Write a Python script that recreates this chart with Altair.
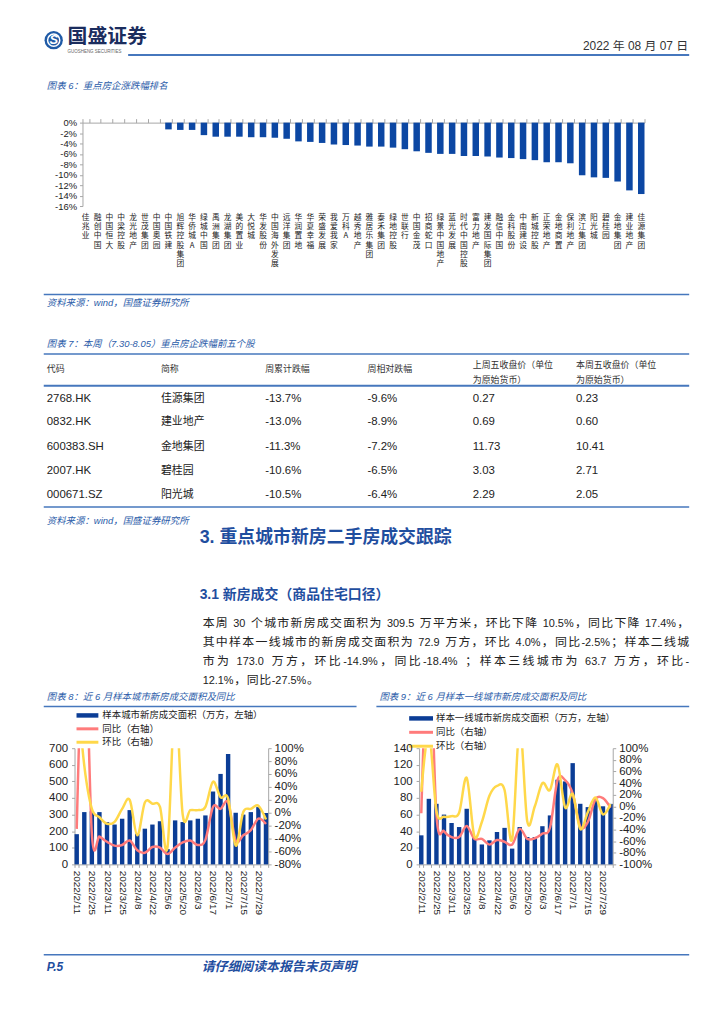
import re
import altair as alt
import pandas as pd

OFF = 8
LATIN = "Liberation Sans"
CJK = "Noto Sans CJK SC"
MIX = "Liberation Sans, Noto Sans CJK SC"
TBLUE = "#2b5ca9"
HBLUE = "#1f4e9f"
LBLUE = "#4677bd"
BAR = "#0b3d96"
BAR6 = "#0c47a3"
RED = "#ff7b7b"
YEL = "#ffd84a"
GRAY = "#a6a6a6"
INK = "#222222"

# ---------------- data: chart 6 ----------------
companies = ["佳兆业", "融创中国", "中国恒大", "中梁控股", "龙光地产", "世茂集团", "中国奥园",
             "中国铁建", "旭辉控股集团", "华侨城A", "绿城中国", "禹洲集团", "龙湖集团", "美的置业",
             "大悦城", "华发股份", "中国海外发展", "远洋集团", "华润置地", "华夏幸福", "荣盛发展",
             "我爱我家", "万科A", "越秀地产", "雅居乐集团", "泰禾集团", "绿地控股", "世联行",
             "中国金茂", "招商蛇口", "绿景中国地产", "蓝光发展", "时代中国控股", "富力地产",
             "建发国际集团", "融信中国", "金科股份", "中南建设", "新城控股", "正荣地产", "金地商置",
             "保利地产", "滨江集团", "阳光城", "碧桂园", "金地集团", "建业地产", "佳源集团"]
changes = [0, 0, 0, 0, 0, 0, 0, -1.3, -1.4, -1.4, -2.4, -2.7, -2.7, -2.7, -2.8, -2.8, -2.9,
           -3.1, -3.6, -3.7, -3.9, -4.2, -4.3, -4.4, -4.6, -4.6, -4.8, -5.1, -5.5, -5.8, -6.0,
           -6.0, -6.4, -6.4, -6.5, -6.7, -6.8, -7.0, -7.2, -7.6, -7.6, -7.8, -10.1, -10.5,
           -10.6, -11.3, -13.0, -13.7]
y6_ticks = [0, -2, -4, -6, -8, -10, -12, -14, -16]

# ---------------- data: table 7 ----------------
t_headers = ["代码", "简称", "周累计跌幅", "周相对跌幅"]
t_headers2 = [("上周五收盘价（单位", "为原始货币）"), ("本周五收盘价（单位", "为原始货币）")]
codes = ["2768.HK", "0832.HK", "600383.SH", "2007.HK", "000671.SZ"]
names = ["佳源集团", "建业地产", "金地集团", "碧桂园", "阳光城"]
cum_chg = ["-13.7%", "-13.0%", "-11.3%", "-10.6%", "-10.5%"]
rel_chg = ["-9.6%", "-8.9%", "-7.2%", "-6.5%", "-6.4%"]
last_close = ["0.27", "0.69", "11.73", "3.03", "2.29"]
this_close = ["0.23", "0.60", "10.41", "2.71", "2.05"]

# ---------------- data: charts 8 / 9 ----------------
weeks = ["2022/2/11", "2022/2/18", "2022/2/25", "2022/3/4", "2022/3/11", "2022/3/18",
         "2022/3/25", "2022/4/1", "2022/4/8", "2022/4/15", "2022/4/22", "2022/4/29",
         "2022/5/6", "2022/5/13", "2022/5/20", "2022/5/27", "2022/6/3", "2022/6/10",
         "2022/6/17", "2022/6/24", "2022/7/1", "2022/7/8", "2022/7/15", "2022/7/22",
         "2022/7/29", "2022/8/5"]
area_all = [182, 315, 320, 315, 255, 240, 275, 327, 185, 215, 240, 260, 92, 265, 255, 265,
            275, 295, 439, 545, 665, 311, 300, 315, 345, 309.5]
yoy_all = [-25, 300, -33, -37, -45, -51, -50, -43, -58, -62, -53, -54, -64, -54, -46, -43,
           -50, -42, 9, 6, 16, -43, -35, -27, -9, -17.4]
mom_all = [200, 73, 6, -7, -17, -14, 6, 20, -35, 16, 14, 9, -53, 176, -3, 4, 4, 9, 48, 24,
           22, -51, 1, 6, 11, -10.5]
area_t1 = [35, 79, 73, 60, 50, 45, 67, 33, 24, 29, 39, 44, 19, 45, 33, 33, 46, 59, 102, 100,
           122, 73, 69, 79, 70, 72.9]
yoy_t1 = [-12, 300, -15, -43, -53, -53, -34, -56, -56, -66, -58, -61, -66, -39, -56, -55,
          -47, -37, 45, 45, 22, -35, -27, 12, 14, -2.5]
mom_t1 = [25, 126, -8, -18, -17, -11, 49, -51, -27, 18, 35, 28, -57, 137, -26, 0, 40, 28,
          72, -2, 21, -39, -10, 15, -14, 4.0]

# ---------------- page text ----------------
para = ["本周 30 个城市新房成交面积为 309.5 万平方米，环比下降 10.5%，同比下降 17.4%，",
        "其中样本一线城市的新房成交面积为 72.9 万方，环比 4.0%，同比-2.5%；样本二线城",
        "市为 173.0 万方，环比-14.9%，同比-18.4% ；样本三线城市为 63.7 万方，环比-",
        "12.1%，同比-27.5%。"]


def pos_xy():
    return dict(x=alt.X("x:Q", scale=None, axis=None), y=alt.Y("y:Q", scale=None, axis=None))


def txt(rows, size, color=INK, font=MIX, align="left", baseline="middle", **kw):
    df = pd.DataFrame(rows, columns=["x", "y", "t"])
    df["x"] = df["x"] - OFF
    df["y"] = df["y"] - OFF
    return alt.Chart(df).mark_text(fontSize=size, color=color, font=font, align=align,
                                   baseline=baseline, **kw).encode(text="t:N", **pos_xy())


def rules(rows):
    df = pd.DataFrame(rows, columns=["x", "x2", "y", "w", "c"])
    for c in ["x", "x2", "y"]:
        df[c] = df[c] - OFF
    return alt.Chart(df).mark_rule().encode(
        x2="x2:Q", strokeWidth=alt.StrokeWidth("w:Q", scale=None),
        color=alt.Color("c:N", scale=None), **pos_xy())


LAT_W = {".": 0.278, "%": 0.889, "-": 0.333, ",": 0.278}


def para_tokens(line, x0, x1, y, justify, cs=12.0, ls=11.0):
    toks = re.findall(r"[\u2e80-\uffff]|[ ]+|[^\u2e80-\uffff ]+", line)
    widths = []
    for t in toks:
        if ord(t[0]) >= 0x2E80:
            widths.append(cs)
        elif t[0] == " ":
            widths.append(0.278 * ls * len(t))
        else:
            widths.append(sum(LAT_W.get(c, 0.556) for c in t) * ls)
    gaps = len(toks) - 1
    extra = (x1 - x0 - sum(widths)) / gaps if (justify and gaps > 0) else 0.6
    out, x = [], x0
    for t, w in zip(toks, widths):
        if t.strip():
            out.append((x - OFF, y - OFF, t, cs if ord(t[0]) >= 0x2E80 else ls))
        x += w + extra
    return out


prow = []
for i, (ln, yy) in enumerate(zip(para, [627, 646, 665, 684])):
    prow += para_tokens(ln, 200, 690, yy, i < 3)
para_df = pd.DataFrame(prow, columns=["x", "y", "t", "s"])
para_layer = alt.Chart(para_df).mark_text(align="left", baseline="alphabetic", font=MIX,
                                          color=INK).encode(
    text="t:N", size=alt.Size("s:Q", scale=None), **pos_xy())

# table text rows
col_x = [43, 158, 263, 366, 472, 576]
row_y = [397, 421, 446, 470, 494]
lat_cells, cjk_cells = [], []
for i, yy in enumerate(row_y):
    lat_cells += [(col_x[0], yy, codes[i]), (col_x[2], yy, cum_chg[i]), (col_x[3], yy, rel_chg[i]),
                  (col_x[4], yy, last_close[i]), (col_x[5], yy, this_close[i])]
    cjk_cells.append((col_x[1], yy, names[i]))
head_cells = [(col_x[k], 367, t_headers[k]) for k in range(4)]
head_cells += [(col_x[4], 363, t_headers2[0][0]), (col_x[4], 378, t_headers2[0][1]),
               (col_x[5], 363, t_headers2[1][0]), (col_x[5], 378, t_headers2[1][1])]

logo_df = pd.DataFrame({"x": [50 - OFF], "y": [36 - OFF]})
logo = alt.Chart(logo_df).mark_point(filled=True, size=340, color="#1f5aa6", opacity=1).encode(**pos_xy())
logo_ring = alt.Chart(logo_df).mark_point(filled=False, size=150, color="white", strokeWidth=1.5,
                                          opacity=1).encode(**pos_xy())
logo_s = alt.Chart(logo_df).mark_text(text="S", fontSize=13, fontWeight="bold", fontStyle="italic",
                                      color="white", font=LATIN).encode(**pos_xy())

overlay = alt.layer(
    rules([
        (125, 690, 51, 2, LBLUE),
        (40, 690, 292, 1.5, LBLUE),
        (40, 690, 352, 1.5, LBLUE),
        (40, 690, 384, 2, LBLUE),
        (40, 690, 506, 1.5, LBLUE),
        (40, 355, 707, 1.5, LBLUE),
        (375, 690, 707, 1.5, LBLUE),
        (40, 690, 957, 1.5, LBLUE),
        (73, 95, 716, 4.5, BAR), (73, 95, 729.5, 3, RED), (73, 95, 743, 3, YEL),
        (408, 432, 719, 4.5, BAR), (408, 432, 733, 3, RED), (408, 432, 747, 3, YEL),
    ]),
    logo, logo_ring, logo_s,
    txt([(64, 33, "国盛证券")], 20, color="#1b2d5e", font=CJK, fontWeight="bold"),
    txt([(64, 48, "GUOSHENG SECURITIES")], 4.5, color="#666666", font=LATIN),
    txt([(689, 42, "2022 年 08 月 07 日")], 12, color="#333333", align="right"),
    txt([(43, 82, "图表 6：重点房企涨跌幅排名"),
         (43, 301, "资料来源：wind，国盛证券研究所"),
         (43, 342, "图表 7：本周（7.30-8.05）重点房企跌幅前五个股"),
         (43, 520, "资料来源：wind，国盛证券研究所"),
         (43, 697, "图表 8：近 6 月样本城市新房成交面积及同比"),
         (378, 697, "图表 9：近 6 月样本一线城市新房成交面积及同比")],
        9.5, color=TBLUE, fontStyle="italic"),
    txt(head_cells, 9, color="#333333"),
    txt(lat_cells, 11.5, font=LATIN),
    txt(cjk_cells, 11, font=CJK),
    txt([(197, 537, "3. 重点城市新房二手房成交跟踪")], 18, color=HBLUE, fontWeight="bold"),
    txt([(197, 595, "3.1 新房成交（商品住宅口径）")], 14, color=HBLUE, fontWeight="bold"),
    para_layer,
    txt([(99, 716, "样本城市新房成交面积（万方，左轴）"), (99, 729.5, "同比（右轴）"),
         (99, 743, "环比（右轴）"),
         (435, 719, "样本一线城市新房成交面积（万方，左轴）"), (435, 733, "同比（右轴）"),
         (435, 747, "环比（右轴）")], 9.5, font=CJK),
    txt([(43, 969, "P.5")], 12, color=HBLUE, fontWeight="bold", fontStyle="italic"),
    txt([(199, 969, "请仔细阅读本报告末页声明")], 13, color=HBLUE, fontWeight="bold",
        fontStyle="italic"),
).properties(width=708, height=111)

# ---------------- chart 6 ----------------
H6 = 84
df6 = pd.DataFrame({"name": companies, "chg": changes})
x6 = alt.Scale(domain=companies, paddingInner=0.45, paddingOuter=0)
y6_axis = alt.Axis(values=y6_ticks, labelExpr="datum.value + '%'", title=None, tickSize=3,
                   labelFontSize=9.5, labelPadding=3, labelOverlap=False,
                   domainColor=GRAY, tickColor=GRAY)
bars6 = alt.Chart(df6).mark_bar(color=BAR6).encode(
    x=alt.X("name:N", sort=companies, scale=x6,
            axis=alt.Axis(orient="top", labels=False, title=None, tickBand="extent", tickSize=4,
                          domainColor=GRAY, tickColor=GRAY)),
    y=alt.Y("chg:Q", scale=alt.Scale(domain=[-16, 0], nice=False, zero=False), axis=y6_axis))

# vertical (one character per line) category labels, placed through the shared band scale
char_rows = []
for nm in companies:
    for k, ch in enumerate(nm):
        char_rows.append({"name": nm, "ch": ch, "py": H6 + 8 + k * 9.3})
chars6 = alt.Chart(pd.DataFrame(char_rows)).mark_text(
    font=CJK, fontSize=7.8, baseline="top", align="center", color=INK).encode(
    x=alt.X("name:N", sort=companies, scale=x6),
    y=alt.Y("py:Q", scale=None, axis=None),
    text="ch:N")
chart6 = alt.layer(bars6, chars6).resolve_scale(y="independent").properties(width=566, height=H6)


# ---------------- charts 8 / 9 ----------------
def combo(area, yoy, mom, ldom, lstep, rdom):
    d = pd.DataFrame({"week": weeks, "area": area, "yoy": yoy, "mom": mom})
    shown = ",".join("'%s'" % w for w in weeks[::2])
    lab_expr = "indexof([" + shown + "], datum.value) >= 0 ? datum.value : ''"
    xs = alt.Scale(domain=weeks, paddingInner=0.42, paddingOuter=0)
    xax = alt.Axis(title=None, labelAngle=90, labelExpr=lab_expr, labelOverlap=False,
                   tickBand="extent", tickSize=3, labelPadding=3, labelFontSize=10,
                   domainColor=GRAY, tickColor=GRAY)
    xenc = alt.X("week:N", sort=weeks, scale=xs, axis=xax)
    bars = alt.Chart(d).mark_bar(color=BAR).encode(
        x=xenc,
        y=alt.Y("area:Q", scale=alt.Scale(domain=ldom, nice=False),
                axis=alt.Axis(title=None, values=list(range(ldom[0], ldom[1] + 1, lstep)),
                              tickSize=3, labelPadding=4, labelFontSize=11.5, labelOverlap=False,
                              domainColor=GRAY, tickColor=GRAY)))
    rscale = alt.Scale(domain=rdom, nice=False)
    rax = alt.Axis(orient="right", title=None, values=list(range(rdom[0], rdom[1] + 1, 20)),
                   labelExpr="datum.value + '%'", tickSize=3, labelPadding=3, labelFontSize=11.5,
                   labelOverlap=False, domainColor=GRAY, tickColor=GRAY)
    red = alt.Chart(d).mark_line(color=RED, strokeWidth=2.5, interpolate="cardinal", clip=True).encode(
        x=xenc, y=alt.Y("yoy:Q", scale=rscale, axis=rax))
    yel = alt.Chart(d).mark_line(color=YEL, strokeWidth=2.5, interpolate="cardinal", clip=True).encode(
        x=xenc, y=alt.Y("mom:Q", scale=rscale, axis=rax))
    return alt.layer(bars, alt.layer(red, yel)).resolve_scale(y="independent").properties(
        width=195, height=117)


chart8 = combo(area_all, yoy_all, mom_all, [0, 700], 100, [-80, 100])
chart9 = combo(area_t1, yoy_t1, mom_t1, [0, 140], 20, [-100, 100])


def spacer(w, h):
    return alt.Chart(pd.DataFrame({"a": [0]})).mark_point(opacity=0).encode(
        x=alt.value(0), y=alt.value(0)).properties(width=w, height=h)


row6 = alt.hconcat(spacer(71, H6), chart6, spacing=0, bounds="flush")
row89 = alt.hconcat(spacer(63, 117), chart8, spacer(152, 117), chart9, spacing=0, bounds="flush")

# nested concat rows count as zero height in flush mode, so the gap spacer spans row6 too
chart = alt.vconcat(overlay, row6, spacer(708, 630), row89, spacing=0, bounds="flush",
                    padding=0).configure_view(stroke="transparent").configure_axis(
    labelFont=LATIN, labelColor=INK, grid=False)

chart.save("out.html", embed_options={"renderer": "svg", "actions": False})
